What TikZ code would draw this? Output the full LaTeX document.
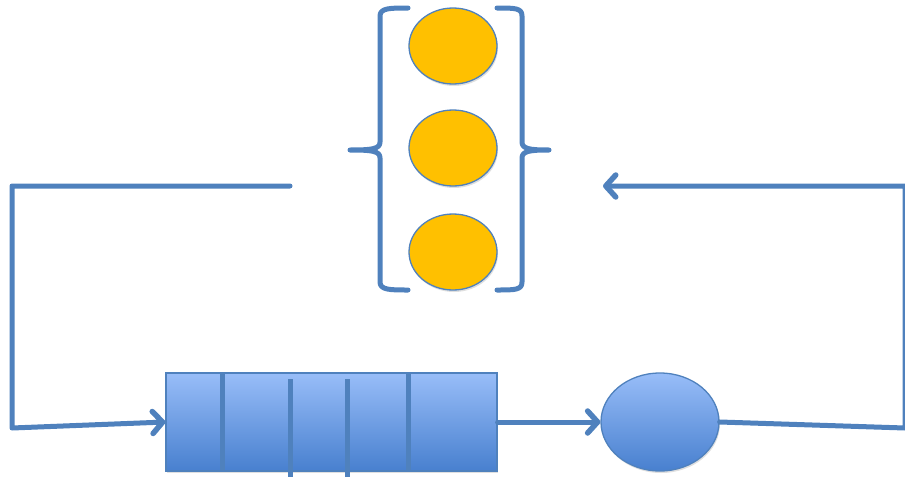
\documentclass[tikz,border=0pt]{standalone}
\usetikzlibrary{arrows.meta,shapes.geometric,shadows}
\definecolor{lineblue}{HTML}{4F81BD}
\definecolor{gold}{HTML}{FFC000}
\definecolor{toplight}{HTML}{98BDF8}
\definecolor{botdark}{HTML}{4880CF}
\tikzset{
  conn/.style={draw=lineblue,line width=5pt,line cap=round,line join=round},
  arr/.style={conn,-{Straight Barb[length=10pt,width=22pt,line width=5.5pt,round]}},
  dot/.style={ellipse,draw=lineblue,line width=1.3pt,fill=gold,minimum width=88pt,minimum height=76pt,inner sep=0pt,
    drop shadow={shadow xshift=1pt,shadow yshift=-2pt,opacity=0.25}},
  queue/.style={rectangle,draw=lineblue,line width=1.2pt,top color=toplight,bottom color=botdark,
    minimum width=331pt,minimum height=98pt,inner sep=0pt,
    drop shadow={shadow xshift=1pt,shadow yshift=-2pt,opacity=0.25}},
  server/.style={ellipse,draw=lineblue,line width=1.3pt,top color=toplight,bottom color=botdark,
    minimum width=118pt,minimum height=98pt,inner sep=0pt,
    drop shadow={shadow xshift=1pt,shadow yshift=-2pt,opacity=0.25}},
  divider/.style={draw=lineblue,line width=5pt},
  brace/.style={draw=lineblue,line width=5pt,line cap=round,line join=round}
}
\begin{document}
\begin{tikzpicture}[x=1pt,y=-1pt]
\useasboundingbox (0,0) rectangle (905,479);
% pool of circles
\node[dot] (c1) at (453,46) {};
\node[dot] (c2) at (453,148) {};
\node[dot] (c3) at (453,252) {};
% braces
\draw[brace] (408,8) .. controls (390,8) and (380,8) .. (380,16) -- (380,142)
  .. controls (380,149) and (372,150) .. (350,150)
  .. controls (372,150) and (380,151) .. (380,158) -- (380,282)
  .. controls (380,290) and (390,290) .. (408,290);
\draw[brace] (497,8) .. controls (515,8) and (522,8) .. (522,16) -- (522,142)
  .. controls (522,149) and (530,150) .. (549,150)
  .. controls (530,150) and (522,151) .. (522,158) -- (522,282)
  .. controls (522,290) and (515,290) .. (497,290);
% queue
\node[queue] (q) at (331.5,422) {};
\draw[divider] (222,374) -- (222,470);
\draw[divider] (290,379) -- (290,477);
\draw[divider] (347,379) -- (347,477);
\draw[divider] (408,374) -- (408,470);
% server
\node[server] (s) at (660,422) {};
% coordinates
\coordinate (lstart) at (290,186);
\coordinate (lcorner) at (12,186);
\coordinate (lbottom) at (12,428);
\coordinate (rbottom) at (905,428);
\coordinate (rtop) at (905,186);
\coordinate (rend) at (603,186);
% connectors
\draw[arr] (lstart) -- (lcorner) -- (lbottom) -- (q.west);
\draw[arr] (q.east) -- (s.west);
\draw[arr] (s.east) -- (rbottom) -- (rtop) -- (rend);
\end{tikzpicture}
\end{document}
